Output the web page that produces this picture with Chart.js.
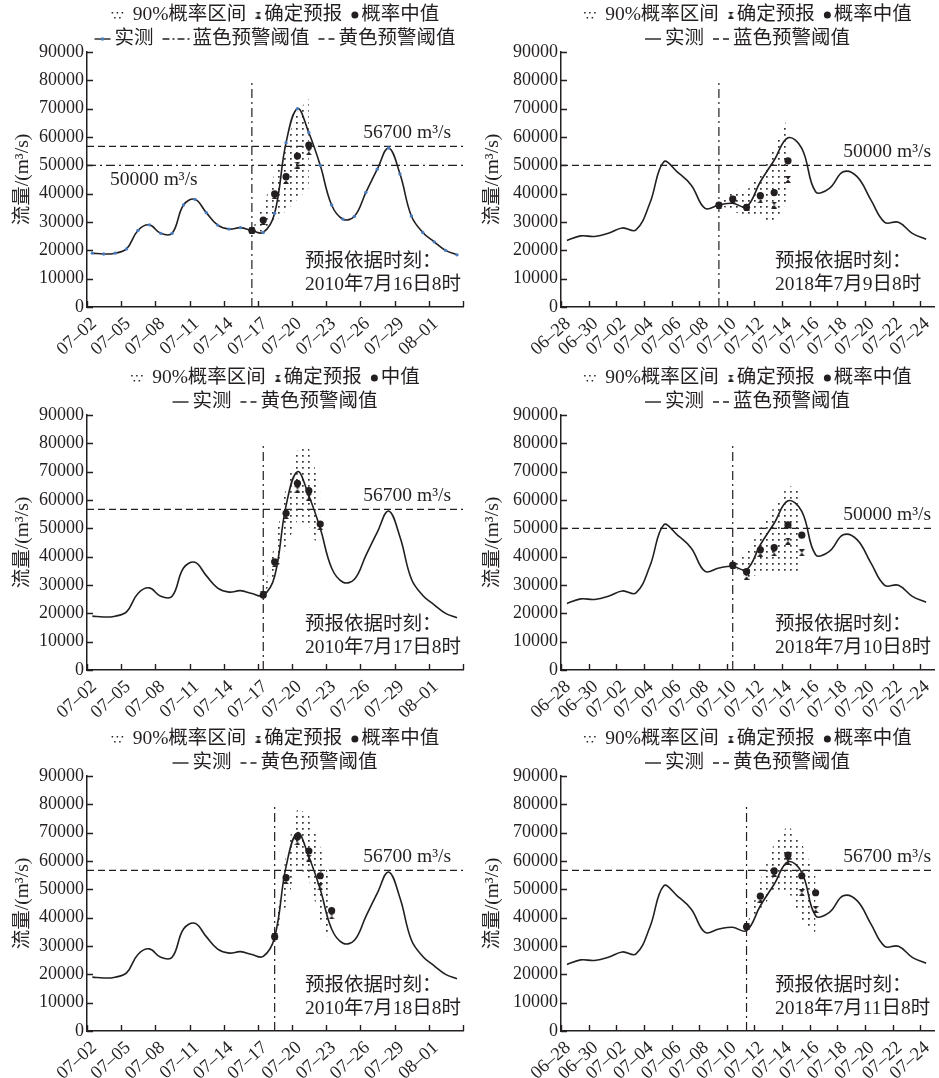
<!DOCTYPE html>
<html>
<head>
<meta charset="utf-8">
<script src="https://cdn.jsdelivr.net/npm/chart.js@4/dist/chart.umd.min.js"></script>
<style>
  html, body { margin: 0; padding: 0; background: #fff; }
  body { width: 939px; height: 1078px; position: relative; overflow: hidden; }
  .panel { position: absolute; width: 469px; height: 360px; }
  canvas { display: block; }
</style>
</head>
<body>
<div class="panel" style="left:0;top:0"><canvas id="c1" width="469" height="360"></canvas></div>
<div class="panel" style="left:470px;top:0"><canvas id="c2" width="469" height="360"></canvas></div>
<div class="panel" style="left:0;top:363px"><canvas id="c3" width="469" height="360"></canvas></div>
<div class="panel" style="left:470px;top:363px"><canvas id="c4" width="469" height="360"></canvas></div>
<div class="panel" style="left:0;top:724px"><canvas id="c5" width="469" height="360"></canvas></div>
<div class="panel" style="left:470px;top:724px"><canvas id="c6" width="469" height="360"></canvas></div>
<script>
// ---- tick labels (one every 3 days for 2010, every 2 days for 2018) ----
const ticks2010 = ['07–02','07–05','07–08','07–11','07–14','07–17','07–20','07–23','07–26','07–29','08–01'];
const ticks2018 = ['06–28','06–30','07–02','07–04','07–06','07–08','07–10','07–12','07–14','07–16','07–18','07–20','07–22','07–24'];

// ---- observed daily discharge (m3/s) ----
const obs2010 = [19000,18700,19000,20500,27000,29000,26000,26000,36000,38000,33300,28900,27500,28000,27000,26300,33100,58000,70000,61500,50000,36000,31000,32000,40400,48600,56100,46900,32100,26300,23000,20000,18400];
const obs2018 = [23500,25100,24900,26000,27900,27200,36600,51200,47600,43000,34800,36000,36600,35400,44200,51800,59700,56000,40700,41900,47700,46000,37800,29900,29900,26000,23900];

// observation time within each day (fraction of a day after 00:00 of the first axis date)
const obsTime2010 = 0.47;
const obsTime2018 = 0.43;

// ---- warning thresholds (m3/s) ----
const warnBlue = 50000;
const warnYellow = 56700;

// ---- forecasts: index 0 is the issue time, then one value per day ----
// issued 2010-07-16 08h
const med20100716 = [27000, 30700, 39900, 46000, 53300, 57100];
const det20100716 = [27000, 30200, 39400, 44700, 50100, 54800];
const up20100716  = [27000, 36000, 47000, 58000, 69000, 73500];
const lo20100716  = [27000, 26500, 30000, 34000, 38000, 42000];
// issued 2018-07-09 08h
const med20180709 = [36000, 38100, 35200, 39300, 40400, 51600];
const det20180709 = [36000, 37800, 35200, 37800, 36000, 45000];
const up20180709  = [36000, 41500, 41000, 47000, 56000, 67000];
const lo20180709  = [36000, 34000, 31600, 31600, 29500, 37800];
// issued 2010-07-17 08h
const med20100717 = [26500, 38200, 55300, 65900, 63300, 51500];
const det20100717 = [26500, 37500, 54500, 63800, 61000, 50600];
const up20100717  = [26500, 44700, 64700, 77600, 78400, 64700];
const lo20100717  = [26500, 33000, 43500, 53000, 51000, 41000];
// issued 2018-07-10 08h
const med20180710 = [37000, 34700, 42400, 43200, 51200, 47600];
const det20180710 = [37000, 33000, 41200, 41400, 45500, 41400];
const up20180710  = [37000, 41000, 50000, 57500, 65000, 64000];
const lo20180710  = [37000, 32500, 34000, 34000, 34000, 34500];
// issued 2010-07-18 08h
const med20100718 = [33300, 54100, 68600, 63500, 54800, 42500];
const det20100718 = [33300, 53000, 66800, 61000, 50900, 40600];
const up20100718  = [33300, 62700, 78600, 76200, 65000, 51000];
const lo20100718  = [33300, 44000, 58600, 53300, 39200, 30400];
// issued 2018-07-11 08h
const med20180711 = [36800, 47600, 56500, 62100, 54800, 48800];
const det20180711 = [36800, 46500, 55700, 59800, 48800, 42900];
const up20180711  = [36800, 53300, 66200, 72700, 66200, 54500];
const lo20180711  = [36800, 42700, 49200, 49800, 39200, 34500];

// ---- styling ----
const INK = '#231f20';
const FONT = "'Liberation Serif', 'Noto Sans CJK SC', serif";
const OBS_DOT = '#4a7cc0';
const DASH = [7, 4];
const DASHDOT = [9, 4, 2, 4];
Chart.defaults.font.family = FONT;
Chart.defaults.color = INK;

// hourglass marker for the deterministic forecast
const hourglass = (() => {
  const c = document.createElement('canvas');
  c.width = 6; c.height = 7;
  const g = c.getContext('2d');
  g.fillStyle = INK;
  g.beginPath(); g.moveTo(0, 0); g.lineTo(6, 0); g.lineTo(3, 3.5); g.closePath(); g.fill();
  g.beginPath(); g.moveTo(0, 7); g.lineTo(6, 7); g.lineTo(3, 3.5); g.closePath(); g.fill();
  return c;
})();

// stippled fill for the 90% interval
function dotPattern(ctx) {
  const c = document.createElement('canvas');
  c.width = 6; c.height = 6;
  const g = c.getContext('2d');
  g.fillStyle = '#333';
  g.fillRect(2, 2, 1.7, 1.7);
  return ctx.createPattern(c, 'repeat');
}

// ---- legend symbols ----
const SYM_W = { band: 14, det: 6, med: 7, line: 16, lineDot: 16, dashdot: 28, dash: 18 };
const SYM_GAP = { band: 8, det: 3, med: 3, line: 4, lineDot: 4, dashdot: 2, dash: 2 };
function drawSym(ctx, s, x, cy) {
  ctx.save();
  ctx.fillStyle = INK; ctx.strokeStyle = INK; ctx.lineWidth = 1.4;
  if (s === 'band') {
    [[1, -3], [6, -3], [11, -3], [3.5, 2], [8.5, 2]].forEach(([dx, dy]) => ctx.fillRect(x + dx, cy + dy, 1.5, 1.5));
  } else if (s === 'det') {
    ctx.drawImage(hourglass, x, cy - 3.5);
  } else if (s === 'med') {
    ctx.beginPath(); ctx.arc(x + 3.5, cy, 3.5, 0, Math.PI * 2); ctx.fill();
  } else {
    ctx.beginPath();
    if (s === 'dashdot') ctx.setLineDash([7, 3, 2, 3]);
    if (s === 'dash') ctx.setLineDash([6, 4]);
    ctx.moveTo(x, cy); ctx.lineTo(x + SYM_W[s], cy); ctx.stroke();
    if (s === 'lineDot') {
      ctx.fillStyle = OBS_DOT;
      ctx.beginPath(); ctx.arc(x + SYM_W[s] / 2, cy, 1.8, 0, Math.PI * 2); ctx.fill();
    }
  }
  ctx.restore();
}
function drawLegendRow(ctx, items, cx, cy) {
  const ITEM_GAP = 9;
  const widths = items.map(([s, t]) => SYM_W[s] + SYM_GAP[s] + ctx.measureText(t).width);
  const total = widths.reduce((a, b) => a + b, 0) + ITEM_GAP * (items.length - 1);
  let x = cx - total / 2;
  items.forEach(([s, t], i) => {
    drawSym(ctx, s, x, cy);
    ctx.fillText(t, x + SYM_W[s] + SYM_GAP[s], cy);
    x += widths[i] + ITEM_GAP;
  });
}

// ---- decorations: inward tick marks, legend, threshold labels, issue time ----
const decor = {
  id: 'decor',
  afterDraw(chart, args, o) {
    const ctx = chart.ctx, ca = chart.chartArea;
    const xs = chart.scales.x, ys = chart.scales.y;
    ctx.save();
    ctx.strokeStyle = INK; ctx.lineWidth = 1.4;
    ctx.beginPath();
    xs.ticks.forEach(t => { const px = Math.round(xs.getPixelForValue(t.value)) + 0.5; ctx.moveTo(px, ca.bottom); ctx.lineTo(px, ca.bottom - 6); });
    ys.ticks.forEach(t => { const py = Math.round(ys.getPixelForValue(t.value)) + 0.5; ctx.moveTo(ca.left, py); ctx.lineTo(ca.left + 6, py); });
    ctx.stroke();

    ctx.fillStyle = INK;
    ctx.textBaseline = 'middle';
    ctx.font = '19.5px ' + FONT;
    const cx = (ca.left + ca.right) / 2;
    drawLegendRow(ctx, o.legend1, cx, 15);
    drawLegendRow(ctx, o.legend2, cx, 39);

    o.labels.forEach(l => {
      const py = ys.getPixelForValue(l.value);
      const text = l.value + ' m³/s';
      if (l.where === 'above') {
        ctx.textAlign = 'right';
        ctx.fillText(text, ca.right - o.labelInset, py - 13);
      } else {
        ctx.textAlign = 'left';
        ctx.fillText(text, ca.left + 23, py + 15);
      }
    });

    ctx.textAlign = 'left';
    ctx.fillText('预报依据时刻：', ca.left + o.stampX, ca.bottom - 45);
    ctx.fillText(o.stamp, ca.left + o.stampX, ca.bottom - 22);
    ctx.restore();
  }
};

function build(p) {
  const canvas = document.getElementById(p.id);
  const ctx = canvas.getContext('2d');
  const is2010 = p.year === 2010;
  const obs = is2010 ? obs2010 : obs2018;
  const t0 = is2010 ? obsTime2010 : obsTime2018;
  const xMax = is2010 ? 33 : 27;
  const step = is2010 ? 3 : 2;
  const tickLabels = is2010 ? ticks2010 : ticks2018;
  const issue = p.issueDay + t0;
  const fc = arr => arr.map((v, i) => ({ x: issue + i, y: v }));

  const datasets = [
    { data: fc(p.med), showLine: false, pointRadius: 3.6, pointBackgroundColor: INK, pointBorderWidth: 0, order: 0 },
    { data: fc(p.det), showLine: false, pointStyle: hourglass, pointRadius: 3.5, order: 1 },
    { data: obs.map((v, i) => ({ x: t0 + i, y: v })), borderColor: INK, borderWidth: 1.6, tension: 0.4,
      pointRadius: p.obsDots ? 1.7 : 0, pointBackgroundColor: OBS_DOT, pointBorderWidth: 0, order: 2 },
    { data: fc(p.up), borderColor: 'transparent', borderWidth: 0, pointRadius: 0, fill: '+1', backgroundColor: dotPattern(ctx), order: 3 },
    { data: fc(p.lo), borderColor: 'transparent', borderWidth: 0, pointRadius: 0, fill: false, order: 4 },
    { data: [{ x: issue, y: 0 }, { x: issue, y: 80000 }], borderColor: INK, borderWidth: 1.2, borderDash: DASHDOT, pointRadius: 0, order: 5 }
  ];
  p.thresholds.forEach((t, k) => datasets.push({
    data: [{ x: 0, y: t.value }, { x: xMax, y: t.value }], borderColor: INK, borderWidth: 1.3,
    borderDash: t.style === 'dashdot' ? DASHDOT : DASH, pointRadius: 0, order: 6 + k
  }));

  new Chart(canvas, {
    type: 'line',
    data: { datasets },
    options: {
      responsive: false,
      animation: false,
      events: [],
      layout: { padding: { left: 0, right: p.rightPad, top: 52, bottom: 0 } },
      plugins: {
        legend: { display: false },
        tooltip: { enabled: false },
        decor: { legend1: p.legend1, legend2: p.legend2, labels: p.labels, stamp: p.stamp,
                 stampX: p.stampX, labelInset: p.labelInset }
      },
      scales: {
        x: {
          type: 'linear', min: 0, max: xMax,
          afterFit: s => { s.height = 53; s.paddingLeft = 0; s.paddingRight = 0; },
          grid: { display: false, drawTicks: false },
          border: { display: true, color: INK, width: 1.5 },
          ticks: {
            stepSize: step, autoSkip: false, includeBounds: is2010, minRotation: 42, maxRotation: 42,
            padding: 6, labelOffset: 7, font: { size: 18.5 }, color: INK,
            callback: v => tickLabels[Math.round(v / step)] ?? ''
          }
        },
        y: {
          min: 0, max: 90000,
          afterFit: s => { s.width = p.yWidth; s.paddingTop = 0; s.paddingBottom = 0; },
          grid: { display: false, drawTicks: false },
          border: { display: true, color: INK, width: 1.5 },
          ticks: { stepSize: 10000, padding: 3, font: { size: 18 }, color: INK, callback: v => String(v) },
          title: { display: true, text: '流量/(m³/s)', font: { size: 19.5 }, color: INK, padding: { top: 11, bottom: 0 } }
        }
      }
    },
    plugins: [decor]
  });
}

const legendTop = name => [['band', '90%概率区间'], ['det', '确定预报'], ['med', name]];
const left = { year: 2010, rightPad: 6, yWidth: 87, stampX: 218, labelInset: 12 };
const right = { year: 2018, rightPad: 2, yWidth: 91, stampX: 214, labelInset: 3 };

[
  Object.assign({}, left, {
    id: 'c1', issueDay: 14, obsDots: true,
    med: med20100716, det: det20100716, up: up20100716, lo: lo20100716,
    thresholds: [{ value: warnYellow, style: 'dash' }, { value: warnBlue, style: 'dashdot' }],
    labels: [{ value: warnYellow, where: 'above' }, { value: warnBlue, where: 'below' }],
    legend1: legendTop('概率中值'),
    legend2: [['lineDot', '实测'], ['dashdot', '蓝色预警阈值'], ['dash', '黄色预警阈值']],
    stamp: '2010年7月16日8时'
  }),
  Object.assign({}, right, {
    id: 'c2', issueDay: 11, obsDots: false,
    med: med20180709, det: det20180709, up: up20180709, lo: lo20180709,
    thresholds: [{ value: warnBlue, style: 'dash' }],
    labels: [{ value: warnBlue, where: 'above' }],
    legend1: legendTop('概率中值'),
    legend2: [['line', '实测'], ['dash', '蓝色预警阈值']],
    stamp: '2018年7月9日8时'
  }),
  Object.assign({}, left, {
    id: 'c3', issueDay: 15, obsDots: false,
    med: med20100717, det: det20100717, up: up20100717, lo: lo20100717,
    thresholds: [{ value: warnYellow, style: 'dash' }],
    labels: [{ value: warnYellow, where: 'above' }],
    legend1: legendTop('中值'),
    legend2: [['line', '实测'], ['dash', '黄色预警阈值']],
    stamp: '2010年7月17日8时'
  }),
  Object.assign({}, right, {
    id: 'c4', issueDay: 12, obsDots: false,
    med: med20180710, det: det20180710, up: up20180710, lo: lo20180710,
    thresholds: [{ value: warnBlue, style: 'dash' }],
    labels: [{ value: warnBlue, where: 'above' }],
    legend1: legendTop('概率中值'),
    legend2: [['line', '实测'], ['dash', '蓝色预警阈值']],
    stamp: '2018年7月10日8时'
  }),
  Object.assign({}, left, {
    id: 'c5', issueDay: 16, obsDots: false,
    med: med20100718, det: det20100718, up: up20100718, lo: lo20100718,
    thresholds: [{ value: warnYellow, style: 'dash' }],
    labels: [{ value: warnYellow, where: 'above' }],
    legend1: legendTop('概率中值'),
    legend2: [['line', '实测'], ['dash', '黄色预警阈值']],
    stamp: '2010年7月18日8时'
  }),
  Object.assign({}, right, {
    id: 'c6', issueDay: 13, obsDots: false,
    med: med20180711, det: det20180711, up: up20180711, lo: lo20180711,
    thresholds: [{ value: warnYellow, style: 'dash' }],
    labels: [{ value: warnYellow, where: 'above' }],
    legend1: legendTop('概率中值'),
    legend2: [['line', '实测'], ['dash', '黄色预警阈值']],
    stamp: '2018年7月11日8时'
  })
].forEach(build);
</script>
</body>
</html>
